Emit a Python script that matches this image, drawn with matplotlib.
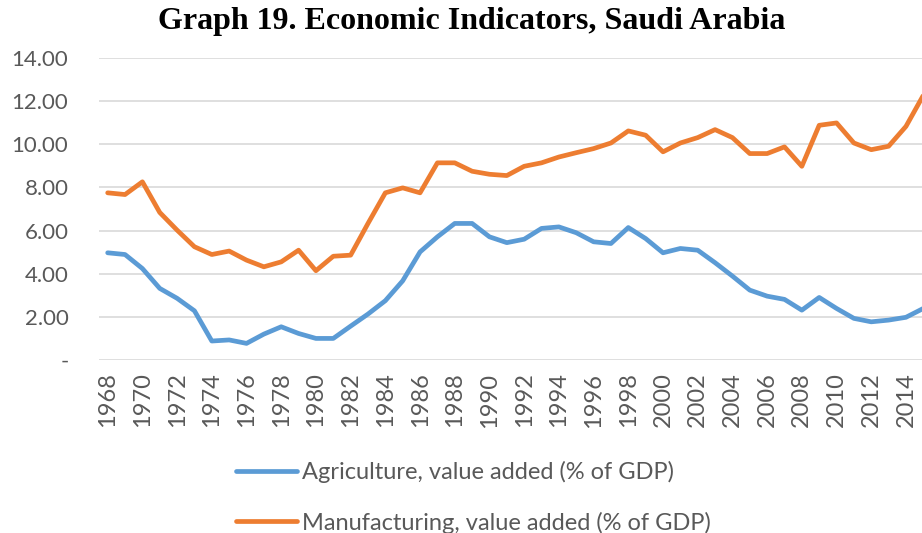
import matplotlib as mpl
import matplotlib.pyplot as plt

mpl.rc('font', family='Lato')

years = list(range(1968, 2016))
agriculture = [4.97, 4.89, 4.24, 3.32, 2.86, 2.28, 0.88, 0.93, 0.77, 1.20,
               1.54, 1.23, 1.00, 1.00, 1.57, 2.13, 2.75, 3.67, 5.01, 5.71,
               6.33, 6.33, 5.71, 5.44, 5.60, 6.10, 6.17, 5.90, 5.48, 5.40,
               6.14, 5.63, 4.97, 5.17, 5.09, 4.51, 3.89, 3.24, 2.96, 2.81,
               2.31, 2.90, 2.39, 1.93, 1.77, 1.85, 1.98, 2.39]
manufacturing = [7.75, 7.67, 8.26, 6.84, 6.02, 5.25, 4.89, 5.05, 4.63, 4.32,
                 4.55, 5.09, 4.14, 4.81, 4.86, 6.33, 7.75, 7.98, 7.75, 9.14,
                 9.14, 8.75, 8.61, 8.55, 8.98, 9.14, 9.41, 9.61, 9.80, 10.06,
                 10.62, 10.42, 9.65, 10.06, 10.31, 10.68, 10.31, 9.57, 9.57, 9.88,
                 8.98, 10.88, 10.99, 10.06, 9.75, 9.91, 10.83, 12.27]
y_ticks = [0, 2, 4, 6, 8, 10, 12, 14]
y_labels = ['-', '2.00', '4.00', '6.00', '8.00', '10.00', '12.00', '14.00']

W, H = 922, 533
fig = plt.figure(figsize=(W / 100, H / 100), dpi=100)
ax = fig.add_axes([99 / W, (H - 360) / H, 833 / W, 302 / H])

ax.plot(years, agriculture, color='#5B9BD5', lw=3.4, solid_capstyle='round',
        label='Agriculture, value added (% of GDP)')
ax.plot(years, manufacturing, color='#ED7D31', lw=3.4, solid_capstyle='round',
        label='Manufacturing, value added (% of GDP)')

ax.set_xlim(1967.5, 2015.5)
ax.set_ylim(0, 14)
ax.set_yticks(y_ticks)
ax.set_yticklabels(y_labels)
ax.set_xticks(years[::2])
ax.set_xticklabels([str(y) for y in years[::2]], rotation=90)
ax.grid(axis='y', color='#D9D9D9', lw=1.2)
ax.set_axisbelow(True)
for s in ax.spines.values():
    s.set_visible(False)
ax.tick_params(axis='both', length=0, colors='#595959', labelsize=16)
ax.tick_params(axis='x', labelsize=17, pad=9)
ax.tick_params(axis='y', pad=22)

fig.text(472 / W, 1 - 21 / H, 'Graph 19. Economic Indicators, Saudi Arabia',
         family='Liberation Serif', weight='bold', fontsize=23,
         ha='center', va='center')

leg = fig.legend(loc='upper left', bbox_to_anchor=(236 / W, 1 - 461 / H),
                 frameon=False, fontsize=17, handlelength=2.6,
                 handletextpad=0.2, labelspacing=1.2, borderpad=0,
                 borderaxespad=0)
for t in leg.get_texts():
    t.set_color('#595959')

fig.savefig('out.png', dpi=100)
